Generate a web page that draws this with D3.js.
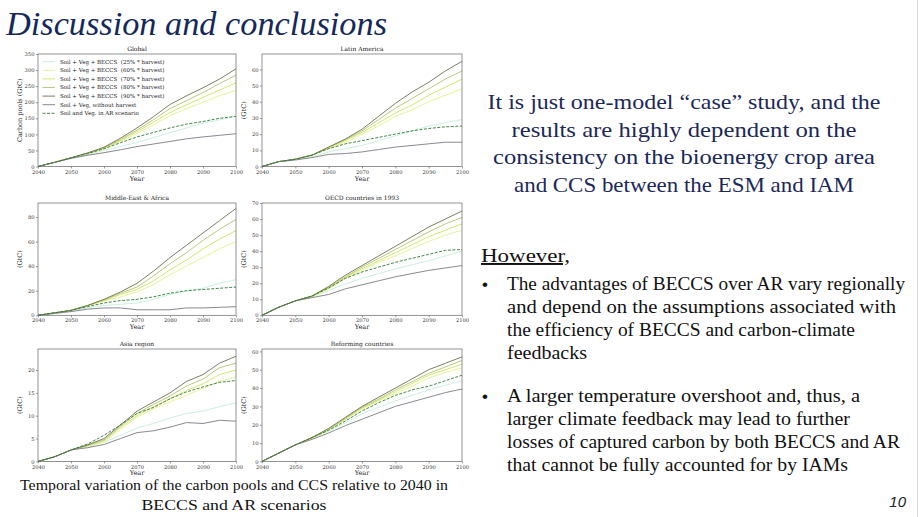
<!DOCTYPE html>
<html>
<head>
<meta charset="utf-8">
<script src="https://cdn.jsdelivr.net/npm/d3@7"></script>
<style>
  body { margin: 0; background: #ffffff; }
  svg { display: block; }
</style>
</head>
<body>
<svg id="slide" width="921" height="517"></svg>
<script>
// Years sampled along the x axis
const years = [2040, 2045, 2050, 2055, 2060, 2065, 2070, 2075, 2080, 2085, 2090, 2095, 2100];
const xTicks = [2040, 2050, 2060, 2070, 2080, 2090, 2100];

// Series (legend order)
const seriesNames = [
  "Soil + Veg + BECCS  (25% * harvest)",
  "Soil + Veg + BECCS  (60% * harvest)",
  "Soil + Veg + BECCS  (70% * harvest)",
  "Soil + Veg + BECCS  (80% * harvest)",
  "Soil + Veg + BECCS  (90% * harvest)",
  "Soil + Veg, without harvest",
  "Soil and Veg. in AR scenario",
];

// values per region, same order as seriesNames
const globalValues = [
  [0, 13, 26, 37, 50, 62, 75, 90, 105, 120, 135, 145, 156],
  [0, 13, 27, 40, 56, 78, 103, 130, 158, 180, 200, 220, 237],
  [0, 13, 27, 41, 57, 81, 108, 138, 168, 192, 215, 238, 260],
  [0, 13, 27, 42, 58, 84, 113, 146, 180, 205, 230, 258, 284],
  [0, 13, 27, 42, 60, 88, 120, 155, 193, 220, 245, 272, 304],
  [0, 13, 25, 35, 43, 52, 62, 70, 78, 86, 92, 97, 102],
  [0, 13, 27, 40, 55, 74, 92, 106, 120, 132, 140, 150, 156],
];
const latinValues = [
  [0, 3, 4.5, 6, 9, 11, 13, 16, 19, 22, 25, 27, 29],
  [0, 3, 4.5, 7, 11, 15, 20, 25, 31, 35, 40, 44, 48],
  [0, 3, 4.5, 7, 11.5, 16, 21, 27, 33, 38, 44, 49, 54],
  [0, 3, 4.5, 7, 12, 16.5, 22, 29, 36, 42, 48, 54, 59],
  [0, 3, 4.5, 7, 12, 17, 23, 31, 39, 46, 52, 59, 65],
  [0, 3, 4, 5.5, 7.5, 8, 9, 10.5, 12, 13, 14, 15, 15],
  [0, 3, 4.5, 7, 11, 14, 16, 18, 20, 22, 23.5, 24.5, 25],
];
const meaValues = [
  [0, 2, 3.5, 6, 8, 9, 10, 13, 17, 20, 22, 26, 29],
  [0, 2, 4, 7.5, 11.5, 15, 19, 25, 33, 40, 47, 54, 60],
  [0, 2, 4, 8, 12, 17, 21, 28, 37, 45, 54, 62, 69],
  [0, 2, 4, 8, 12.5, 18, 23, 32, 42, 51, 61, 70, 78],
  [0, 2, 4, 8, 13, 19, 26, 36, 47, 57, 67, 77, 87],
  [0, 1.5, 3, 5, 6, 6, 4.5, 4.5, 4.5, 6, 6, 6.5, 7],
  [0, 2, 4, 7, 10, 12, 13, 15, 18, 20, 21, 22, 23],
];
const oecdValues = [
  [0, 5, 9, 11.5, 15.5, 19.5, 23, 26, 29, 31.5, 34, 37, 40],
  [0, 5, 9, 11.5, 16.5, 23, 28, 33, 37, 41.5, 46, 50, 53],
  [0, 5, 9, 12, 17, 23.5, 29, 34, 39, 44, 49, 53, 57],
  [0, 5, 9, 12, 17.5, 24, 30, 35.5, 41, 46.5, 52, 57, 61],
  [0, 5, 9, 12, 18, 25, 31, 37, 43, 49, 55, 60, 65],
  [0, 5, 9, 11, 13, 16.5, 19, 21.5, 24, 26, 28, 29.5, 31],
  [0, 5, 9, 12, 17, 23, 27, 30, 33, 35.5, 38, 40.5, 41],
];
const asiaValues = [
  [0, 1, 2.5, 3.2, 4.2, 5.7, 7.3, 8.3, 9.5, 10.5, 11, 12, 12.8],
  [0, 1, 2.5, 3.3, 4.2, 7, 9.7, 11.5, 13, 14.5, 16, 17.5, 18.5],
  [0, 1, 2.5, 3.4, 4.5, 7.4, 10, 12, 13.7, 15.5, 17, 19, 20],
  [0, 1, 2.5, 3.5, 4.7, 7.7, 10.5, 12.5, 14.3, 16.5, 18, 20.5, 21.5],
  [0, 1, 2.5, 3.6, 5, 8, 11, 13, 15, 17.5, 19, 21.5, 23],
  [0, 1, 2.5, 3, 3.7, 5, 6.3, 6.7, 7.5, 8.5, 8.3, 9, 8.8],
  [0, 1, 2.5, 3.8, 5.7, 8, 10.5, 11.8, 13.7, 15.2, 16.3, 17.3, 17.7],
];
const reformValues = [
  [0, 4.5, 9, 12.5, 16.5, 21, 26, 29.5, 33, 36, 39, 41.5, 44],
  [0, 4.5, 9, 12.5, 17, 23, 28.5, 33, 37, 41, 45.5, 48.5, 51],
  [0, 4.5, 9, 13, 17.5, 23, 29, 33.5, 38, 42.5, 47, 50, 53],
  [0, 4.5, 9, 13, 17.5, 23.5, 29.5, 34, 39, 43.5, 48, 51.5, 55],
  [0, 4.5, 9, 13, 18, 24, 30, 35, 40, 45, 50, 53.5, 57],
  [0, 4.5, 9, 12, 15.5, 19.5, 23, 26.5, 30, 32.5, 35, 37.5, 39.5],
  [0, 4.5, 9, 13, 17, 22, 27.5, 32, 36, 39, 41, 44, 47],
];

const panelTitles = ["Global", "Latin America", "Middle-East & Africa", "OECD countries in 1993", "Asia region", "Reforming countries"];
const panelValues = [globalValues, latinValues, meaValues, oecdValues, asiaValues, reformValues];
const panelYMax = [350, 69.5, 91.4, 70, 24.6, 61.3];
const panelYTicks = [
  [0, 50, 100, 150, 200, 250, 300, 350],
  [0, 10, 20, 30, 40, 50, 60],
  [0, 20, 40, 60, 80],
  [0, 10, 20, 30, 40, 50, 60, 70],
  [0, 5, 10, 15, 20],
  [0, 10, 20, 30, 40, 50, 60],
];
const panelYLabels = ["Carbon pools (GtC)", "(GtC)", "(GtC)", "(GtC)", "(GtC)", "(GtC)"];

const seriesColors = ["#c4eedc", "#e6f28c", "#cfe35e", "#b3c272", "#6f7152", "#7c7c86", "#2f7d34"];

// slide text
const leadLines = [
  "It is just one-model \u201ccase\u201d study, and the",
  "results are highly dependent on the",
  "consistency on the bioenergy crop area",
  "and CCS between the ESM and IAM",
];
const leadWidths = [393, 345, 382, 340];
const bullets = [
  ["The advantages of BECCS over AR vary regionally", "and depend on the assumptions associated with", "the efficiency of BECCS and carbon-climate", "feedbacks"],
  ["A larger temperature overshoot and, thus, a", "larger climate feedback may lead to further", "losses of captured carbon by both BECCS and AR", "that cannot be fully accounted for by IAMs"],
];
const bulletWidths = [[398, 389, 348, 80], [353, 343, 393, 341]];
const caption = ["Temporal variation of the carbon pools and CCS relative to 2040 in", "BECCS and AR scenarios"];
const captionWidths = [428, 185];

// panel boxes on the slide
const colX = [38, 262];
const colW = [198, 200];
const rowY = [54, 203, 349];
const rowH = [112.5, 112.3, 112.4];

const svg = d3.select("#slide");
const serif = "'DejaVu Serif', serif";
const slideFont = "'Liberation Serif', 'DejaVu Serif', serif";

// title
svg.append("text")
  .attr("x", 6).attr("y", 35)
  .attr("font-family", slideFont)
  .attr("font-style", "italic")
  .attr("font-size", 34)
  .attr("fill", "#14285a")
  .attr("textLength", 381).attr("lengthAdjust", "spacingAndGlyphs")
  .text("Discussion and conclusions");

// right border line
svg.append("line")
  .attr("x1", 917.5).attr("x2", 917.5)
  .attr("y1", 0).attr("y2", 517)
  .attr("stroke", "#d8d8d8").attr("stroke-width", 1);

panelTitles.forEach((title, i) => {
  const col = i % 2, row = Math.floor(i / 2);
  const left = colX[col], top = rowY[row], w = colW[col], h = rowH[row];
  const g = svg.append("g").attr("transform", `translate(${left},${top})`);

  const x = d3.scaleLinear().domain([2040, 2100]).range([0, w]);
  const y = d3.scaleLinear().domain([0, panelYMax[i]]).range([h, 0]);

  // axes
  const xAxis = g.append("g")
    .attr("transform", `translate(0,${h})`)
    .call(d3.axisBottom(x).tickValues(xTicks).tickFormat(d3.format("d")).tickSize(2).tickPadding(1.5));
  const yAxis = g.append("g")
    .call(d3.axisLeft(y).tickValues(panelYTicks[i]).tickFormat(d3.format("d")).tickSize(2).tickPadding(1.5));
  [xAxis, yAxis].forEach((a) => {
    a.select(".domain").remove();
    a.selectAll("line").attr("stroke", "#555").attr("stroke-width", 0.6);
    a.selectAll("text").attr("font-family", serif).attr("font-size", 5.2).attr("fill", "#333");
  });

  // lines
  const line = d3.line().x((d, k) => x(years[k])).y((d) => y(d));
  panelValues[i].forEach((vals, s) => {
    g.append("path")
      .datum(vals)
      .attr("fill", "none")
      .attr("stroke", seriesColors[s])
      .attr("stroke-width", 0.9)
      .attr("stroke-dasharray", s === 6 ? "3,1.5" : null)
      .attr("d", line);
  });

  // frame
  g.append("rect")
    .attr("width", w).attr("height", h)
    .attr("fill", "none")
    .attr("stroke", "#666").attr("stroke-width", 0.7);

  // title
  g.append("text")
    .attr("x", w / 2).attr("y", -3)
    .attr("text-anchor", "middle")
    .attr("font-family", serif).attr("font-size", 6)
    .attr("fill", "#222")
    .text(title);

  // axis labels
  g.append("text")
    .attr("x", w / 2).attr("y", h + 14)
    .attr("text-anchor", "middle")
    .attr("font-family", serif).attr("font-size", 6.5)
    .attr("fill", "#222")
    .text("Year");
  g.append("text")
    .attr("transform", `translate(${-16},${h / 2}) rotate(-90)`)
    .attr("text-anchor", "middle")
    .attr("font-family", serif).attr("font-size", 6.5)
    .attr("fill", "#222")
    .text(panelYLabels[i]);

  // legend only in the Global panel
  if (i === 0) {
    const leg = g.append("g").attr("transform", "translate(4.5,7.7)");
    seriesNames.forEach((name, s) => {
      const ly = s * 8.6;
      leg.append("line")
        .attr("x1", 0).attr("x2", 12.5)
        .attr("y1", ly).attr("y2", ly)
        .attr("stroke", seriesColors[s]).attr("stroke-width", 0.9)
        .attr("stroke-dasharray", s === 6 ? "3,1.5" : null);
      leg.append("text")
        .attr("x", 17.5).attr("y", ly + 1.9)
        .attr("font-family", serif).attr("font-size", 5.5)
        .attr("fill", "#222")
        .attr("xml:space", "preserve")
        .style("white-space", "pre")
        .text(name);
    });
  }
});

// caption under the figure
caption.forEach((t, k) => {
  svg.append("text")
    .attr("x", 234).attr("y", 490 + k * 20)
    .attr("text-anchor", "middle")
    .attr("font-family", slideFont).attr("font-size", 15.5)
    .attr("fill", "#111")
    .attr("textLength", captionWidths[k]).attr("lengthAdjust", "spacingAndGlyphs")
    .text(t);
});

// right-hand text
leadLines.forEach((t, k) => {
  svg.append("text")
    .attr("x", 684).attr("y", 109 + k * 27.7)
    .attr("text-anchor", "middle")
    .attr("font-family", slideFont).attr("font-size", 21)
    .attr("fill", "#1c2858")
    .attr("textLength", leadWidths[k]).attr("lengthAdjust", "spacingAndGlyphs")
    .text(t);
});

svg.append("text")
  .attr("x", 481).attr("y", 262)
  .attr("font-family", slideFont).attr("font-size", 19.5)
  .attr("fill", "#111")
  .attr("text-decoration", "underline")
  .attr("textLength", 89).attr("lengthAdjust", "spacingAndGlyphs")
  .text("However,");

const bulletTop = [290, 402];
bullets.forEach((lines, b) => {
  svg.append("text")
    .attr("x", 482).attr("y", bulletTop[b])
    .attr("font-family", "'Liberation Sans', sans-serif").attr("font-size", 17)
    .attr("fill", "#111")
    .text("\u2022");
  lines.forEach((t, k) => {
    svg.append("text")
      .attr("x", 507).attr("y", bulletTop[b] + k * 23)
      .attr("font-family", slideFont).attr("font-size", 19)
      .attr("fill", "#111")
      .attr("textLength", bulletWidths[b][k]).attr("lengthAdjust", "spacingAndGlyphs")
      .text(t);
  });
});

svg.append("text")
  .attr("x", 906).attr("y", 507)
  .attr("text-anchor", "end")
  .attr("font-family", "'Liberation Sans', sans-serif")
  .attr("font-style", "italic").attr("font-size", 15)
  .attr("fill", "#222")
  .text("10");
</script>
</body>
</html>
